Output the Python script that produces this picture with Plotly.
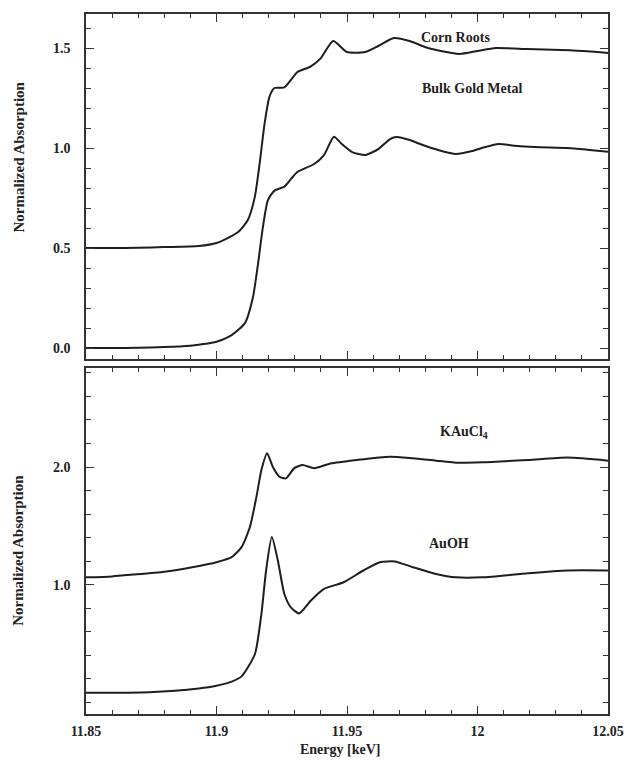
import plotly.graph_objects as go

# ---- data ----
corn_E = [11.85, 11.86, 11.87, 11.88, 11.8932, 11.9, 11.9083, 11.912, 11.9147, 11.9165, 11.9184,
          11.9203, 11.9222, 11.926, 11.9285, 11.931, 11.936, 11.9399, 11.9447, 11.95, 11.957,
          11.962, 11.968, 11.974, 11.981, 11.993, 12.0, 12.007, 12.019, 12.032, 12.042, 12.05]
corn_v = [0.5, 0.5, 0.502, 0.505, 0.51, 0.525, 0.58, 0.64, 0.757, 0.92, 1.12,
          1.257, 1.30, 1.303, 1.34, 1.38, 1.407, 1.448, 1.535, 1.48, 1.48,
          1.51, 1.55, 1.535, 1.50, 1.47, 1.485, 1.50, 1.495, 1.49, 1.484, 1.475]

bulk_E = [11.85, 11.86, 11.87, 11.88, 11.89, 11.895, 11.9, 11.9058, 11.9109, 11.914, 11.9159,
          11.9178, 11.9197, 11.9222, 11.926, 11.9285, 11.931, 11.9374, 11.9412, 11.945, 11.948,
          11.952, 11.957, 11.962, 11.9665, 11.969, 11.974, 11.979, 11.985, 11.9917, 11.998,
          12.003, 12.008, 12.014, 12.022, 12.0345, 12.042, 12.05]
bulk_v = [0.0, 0.0, 0.002, 0.005, 0.012, 0.02, 0.032, 0.065, 0.125, 0.257, 0.42,
          0.607, 0.74, 0.787, 0.807, 0.845, 0.88, 0.92, 0.965, 1.057, 1.02,
          0.98, 0.965, 0.995, 1.045, 1.055, 1.04, 1.015, 0.99, 0.97, 0.985,
          1.005, 1.02, 1.012, 1.005, 1.0, 0.992, 0.982]

kau_E = [11.85, 11.86, 11.868, 11.88, 11.8907, 11.9, 11.9058, 11.9096, 11.9128, 11.9153, 11.9172,
         11.9194, 11.9216, 11.9241, 11.9266, 11.9298, 11.933, 11.9374, 11.9437, 11.9538, 11.9664,
         11.9753, 11.9917, 12.0018, 12.0194, 12.0346, 12.05]
kau_v = [1.062, 1.07, 1.085, 1.11, 1.148, 1.19, 1.233, 1.319, 1.49, 1.746, 1.974,
         2.117, 2.0, 1.917, 1.903, 1.99, 2.017, 1.99, 2.03, 2.06, 2.088,
         2.074, 2.037, 2.04, 2.06, 2.08, 2.054]

auoh_E = [11.85, 11.8742, 11.8932, 11.9, 11.9058, 11.9096, 11.9147, 11.9172, 11.919, 11.9212,
          11.9235, 11.926, 11.9285, 11.9317, 11.9361, 11.9412, 11.9487, 11.9563, 11.9626,
          11.9683, 11.9753, 11.9841, 11.9917, 12.0018, 12.0194, 12.0346, 12.05]
auoh_v = [0.08, 0.085, 0.117, 0.14, 0.175, 0.22, 0.408, 0.75, 1.12, 1.404,
          1.205, 0.92, 0.806, 0.755, 0.863, 0.963, 1.02, 1.12, 1.19,
          1.197, 1.148, 1.091, 1.062, 1.062, 1.097, 1.12, 1.12]

top_labels = ["Corn Roots", "Bulk Gold Metal"]
top_label_pos = [(11.9917, 1.555), (11.998, 1.30)]
bot_labels = ["KAuCl<sub>4</sub>", "AuOH"]
bot_label_pos = [(11.9947, 2.29), (11.989, 1.35)]

x_ticks = [11.85, 11.9, 11.95, 12.0, 12.05]
x_ticktext = ["11.85", "11.9", "11.95", "12", "12.05"]
top_yticks = [0.0, 0.5, 1.0, 1.5]
bot_yticks = [1.0, 2.0]

FONT = "Liberation Serif"
LC = "#1e1e1e"

fig = go.Figure()
line = dict(color=LC, width=2, shape="spline", smoothing=0.6)
fig.add_trace(go.Scatter(x=corn_E, y=corn_v, mode="lines", line=line, xaxis="x", yaxis="y"))
fig.add_trace(go.Scatter(x=bulk_E, y=bulk_v, mode="lines", line=line, xaxis="x", yaxis="y"))
fig.add_trace(go.Scatter(x=kau_E, y=kau_v, mode="lines", line=line, xaxis="x2", yaxis="y2"))
fig.add_trace(go.Scatter(x=auoh_E, y=auoh_v, mode="lines", line=line, xaxis="x2", yaxis="y2"))

tickfont = dict(family=FONT, size=14, color="#222", weight="bold")
common_axis = dict(showline=True, linecolor="#333", linewidth=1.5, mirror="allticks",
                   ticks="inside", ticklen=8, tickwidth=1.2, tickcolor="#333",
                   showgrid=False, zeroline=False, tickfont=tickfont)

fig.update_layout(
    width=636, height=763, autosize=False,
    margin=dict(l=86, r=22, t=14, b=49),
    paper_bgcolor="white", plot_bgcolor="white",
    showlegend=False,
    font=dict(family=FONT, color="#222"),
    xaxis=dict(common_axis, domain=[0, 1], range=[11.85, 12.05], anchor="y",
               tickvals=x_ticks, showticklabels=False,
               minor=dict(dtick=0.01, tick0=11.85, ticks="inside", ticklen=4, tickcolor="#333")),
    yaxis=dict(common_axis, domain=[0.507, 1.0], range=[-0.055, 1.67], anchor="x",
               tickvals=top_yticks, ticktext=["0.0", "0.5", "1.0", "1.5"],
               ticklabelstandoff=11,
               minor=dict(dtick=0.1, tick0=0, ticks="inside", ticklen=5, tickcolor="#333")),
    xaxis2=dict(common_axis, domain=[0, 1], range=[11.85, 12.05], anchor="y2",
                tickvals=x_ticks, ticktext=x_ticktext, ticklabelstandoff=3,
                minor=dict(dtick=0.01, tick0=11.85, ticks="inside", ticklen=4, tickcolor="#333")),
    yaxis2=dict(common_axis, domain=[0.0, 0.494], range=[-0.1, 2.84], anchor="x2",
                tickvals=bot_yticks, ticktext=["1.0", "2.0"], ticklabelstandoff=11,
                minor=dict(dtick=0.2, tick0=0, ticks="inside", ticklen=5, tickcolor="#333")),
)

annos = []
for t, (x, y) in zip(top_labels, top_label_pos):
    annos.append(dict(x=x, y=y, xref="x", yref="y", text="<b>%s</b>" % t, showarrow=False,
                      font=dict(family=FONT, size=14, color="#222")))
for t, (x, y) in zip(bot_labels, bot_label_pos):
    annos.append(dict(x=x, y=y, xref="x2", yref="y2", text="<b>%s</b>" % t, showarrow=False,
                      font=dict(family=FONT, size=14, color="#222")))
annos.append(dict(x=-0.129, y=0.796, xref="paper", yref="paper", xanchor="center", yanchor="middle",
                  text="<b>Normalized Absorption</b>",
                  textangle=-90, showarrow=False, font=dict(family=FONT, size=15, color="#222")))
annos.append(dict(x=-0.129, y=0.234, xref="paper", yref="paper", xanchor="center", yanchor="middle",
                  text="<b>Normalized Absorption</b>",
                  textangle=-90, showarrow=False, font=dict(family=FONT, size=15, color="#222")))
annos.append(dict(x=(343 - 86) / 528, y=(714 - 749) / 700, xref="paper", yref="paper",
                  xanchor="center", yanchor="middle",
                  text="<b>Energy [keV]</b>", showarrow=False,
                  font=dict(family=FONT, size=14, color="#222")))
fig.update_layout(annotations=annos)

fig.write_html("out.html")
